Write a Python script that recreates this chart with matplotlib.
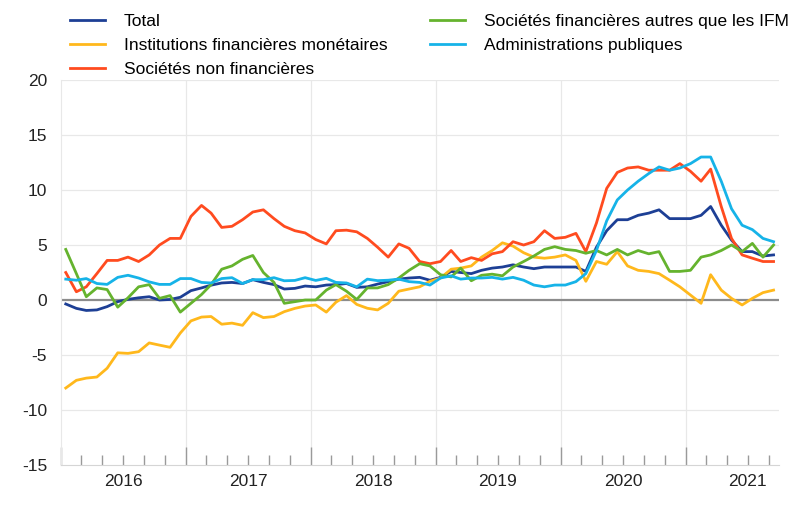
import matplotlib
matplotlib.use("Agg")
import matplotlib.pyplot as plt
import matplotlib.dates as mdates
import matplotlib.transforms as mtransforms
import pandas as pd

plt.rcParams['font.family'] = ['Liberation Sans', 'DejaVu Sans']
plt.rcParams['axes.unicode_minus'] = False

# monthly data, Jan 2016 - Sep 2021 (annual growth rates, %)
months = pd.date_range('2016-01-01', periods=69, freq='MS') + pd.Timedelta(days=14)

total = [-0.36, -0.76, -0.95, -0.9, -0.6, -0.15, 0.06, 0.2, 0.3, 0.0, 0.05, 0.25,
         0.85, 1.1, 1.35, 1.55, 1.6, 1.5, 1.85, 1.6, 1.4, 1.0, 1.06, 1.27,
         1.2, 1.36, 1.4, 1.5, 1.15, 1.2, 1.45, 1.67, 1.9, 2.0, 2.06, 1.8,
         2.06, 2.6, 2.5, 2.4, 2.7, 2.9, 3.0, 3.2, 3.0, 2.85, 3.0, 3.0,
         3.0, 3.0, 2.6, 4.8, 6.3, 7.3, 7.3, 7.7, 7.9, 8.2, 7.4, 7.4,
         7.4, 7.7, 8.5, 6.8, 5.45, 4.4, 4.4, 4.0, 4.1]

ifm = [-8.0, -7.3, -7.1, -7.0, -6.2, -4.8, -4.85, -4.7, -3.9, -4.1, -4.3, -3.0,
       -1.9, -1.55, -1.5, -2.2, -2.1, -2.3, -1.15, -1.6, -1.5, -1.06, -0.76, -0.55,
       -0.45, -1.1, -0.2, 0.4, -0.4, -0.75, -0.9, -0.3, 0.8, 1.0, 1.2, 1.7,
       2.0, 2.8, 2.9, 3.1, 3.9, 4.5, 5.2, 4.9, 4.3, 3.9, 3.8, 3.9,
       4.1, 3.6, 1.7, 3.5, 3.25, 4.4, 3.1, 2.7, 2.6, 2.4, 1.8, 1.2,
       0.45, -0.3, 2.3, 0.9, 0.15, -0.45, 0.15, 0.67, 0.9]

snf = [2.5, 0.75, 1.2, 2.4, 3.6, 3.6, 3.9, 3.5, 4.1, 5.0, 5.6, 5.6,
       7.6, 8.6, 7.9, 6.6, 6.7, 7.3, 8.0, 8.2, 7.4, 6.7, 6.3, 6.1,
       5.5, 5.1, 6.3, 6.35, 6.2, 5.6, 4.8, 3.9, 5.1, 4.7, 3.5, 3.3,
       3.5, 4.5, 3.5, 3.85, 3.6, 4.2, 4.4, 5.3, 5.0, 5.3, 6.3, 5.6,
       5.7, 6.06, 4.4, 7.0, 10.15, 11.6, 12.0, 12.1, 11.8, 11.8, 11.8, 12.4,
       11.7, 10.8, 11.9, 8.5, 5.6, 4.1, 3.8, 3.5, 3.5]

sf_autres = [4.6, 2.4, 0.3, 1.1, 0.95, -0.65, 0.2, 1.2, 1.4, 0.15, 0.4, -1.1,
             -0.3, 0.5, 1.4, 2.8, 3.1, 3.7, 4.05, 2.5, 1.6, -0.3, -0.15, 0.0,
             0.0, 0.9, 1.4, 0.8, 0.05, 1.1, 1.1, 1.4, 2.0, 2.7, 3.3, 3.1,
             2.3, 2.1, 2.9, 1.75, 2.25, 2.35, 2.2, 3.0, 3.5, 4.0, 4.6, 4.85,
             4.6, 4.5, 4.25, 4.5, 4.1, 4.6, 4.1, 4.5, 4.2, 4.4, 2.6, 2.6,
             2.7, 3.9, 4.1, 4.5, 5.0, 4.4, 5.15, 3.9, 5.0]

apu = [1.9, 1.8, 1.95, 1.5, 1.42, 2.06, 2.25, 2.0, 1.65, 1.42, 1.42, 1.95,
       1.95, 1.6, 1.55, 1.95, 2.03, 1.5, 1.85, 1.85, 2.03, 1.75, 1.78, 2.03,
       1.78, 1.97, 1.6, 1.55, 1.2, 1.9, 1.76, 1.8, 1.9, 1.67, 1.6, 1.36,
       2.0, 2.2, 1.9, 2.0, 2.0, 2.06, 1.9, 2.06, 1.8, 1.36, 1.2, 1.36,
       1.36, 1.67, 2.4, 4.5, 7.2, 9.1, 10.0, 10.8, 11.5, 12.1, 11.8, 12.0,
       12.4, 13.0, 13.0, 10.8, 8.3, 6.8, 6.4, 5.6, 5.3]

years = [2016, 2017, 2018, 2019, 2020, 2021]

series = [
    ("Total", total, "#1d3f95"),
    ("Institutions financières monétaires", ifm, "#ffb81c"),
    ("Sociétés non financières", snf, "#ff4b1f"),
    ("Sociétés financières autres que les IFM", sf_autres, "#65b32e"),
    ("Administrations publiques", apu, "#16b3e8"),
]

fig = plt.figure(figsize=(8.12, 5.11), dpi=100)
ax = fig.add_axes([0.0751, 0.090, 0.8843, 0.7534])

grid_c = "#e8e8e8"
for v in [-10, -5, 5, 10, 15, 20]:
    ax.axhline(v, color=grid_c, lw=0.9, zorder=0)
for y in years[1:]:
    ax.axvline(pd.Timestamp(f"{y}-01-01"), color=grid_c, lw=0.9, zorder=0)
ax.axhline(0, color="#8c8c8c", lw=1.6, zorder=1)

lines = []
for name, vals, col in series:
    ln, = ax.plot(months, vals, color=col, lw=2.0, label=name, zorder=3)
    lines.append(ln)

ax.set_xlim(pd.Timestamp("2016-01-01"), pd.Timestamp("2021-10-01"))
ax.set_ylim(-15, 20)
ax.set_yticks(range(-15, 21, 5))

for s in ["top", "right"]:
    ax.spines[s].set_visible(False)
ax.spines["left"].set_color(grid_c)
ax.spines["bottom"].set_color("#d5d5d5")

ax.xaxis.set_major_locator(mdates.YearLocator())
ax.xaxis.set_minor_locator(mdates.MonthLocator(bymonth=[3, 5, 7, 9, 11]))
ax.xaxis.set_major_formatter(plt.NullFormatter())
ax.tick_params(axis="x", which="major", direction="in", length=13, width=1.0, color="#9a9a9a")
ax.tick_params(axis="x", which="minor", direction="in", length=7.5, width=1.0, color="#9a9a9a")
ax.tick_params(axis="y", length=0, pad=10, labelsize=12.5, labelcolor="#222222")

trans = mtransforms.blended_transform_factory(ax.transData, ax.transAxes)
for y in years:
    ax.text(pd.Timestamp(f"{y}-07-02"), -0.042, str(y), transform=trans,
            ha="center", va="center", fontsize=12.5, color="#222222")

fig.legend(handles=lines, loc="upper left", bbox_to_anchor=(0.071, 0.996),
           ncol=2, frameon=False, fontsize=12.5, handlelength=2.0,
           handletextpad=1.1, labelspacing=0.5, columnspacing=2.45,
           borderaxespad=0.3)

fig.savefig("out.png", dpi=100)
